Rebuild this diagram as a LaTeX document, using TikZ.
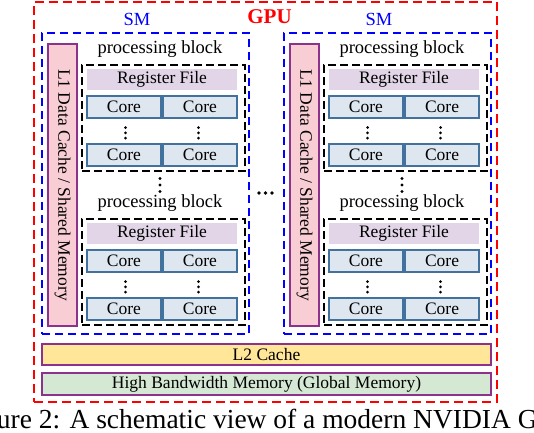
\documentclass[tikz,border=0pt]{standalone}
\usepackage{fontspec}
\setmainfont{Liberation Serif}
\definecolor{gpured}{RGB}{255,0,0}
\definecolor{smblue}{RGB}{0,0,255}
\definecolor{lonefill}{RGB}{248,206,212}
\definecolor{purpleline}{RGB}{140,50,140}
\definecolor{regfill}{RGB}{225,213,231}
\definecolor{corefill}{RGB}{222,231,240}
\definecolor{coreline}{RGB}{65,113,156}
\definecolor{ltwofill}{RGB}{255,230,153}
\definecolor{hbmfill}{RGB}{213,232,212}
\begin{document}
\begin{tikzpicture}[x=1pt,y=-1pt,
  every node/.style={inner sep=0pt,outer sep=0pt},
  gpubox/.style={draw=gpured,line width=2.9pt,dash pattern=on 9pt off 5pt},
  smbox/.style={draw=smblue,line width=2.4pt,dash pattern=on 8pt off 5pt},
  pbbox/.style={draw=black,line width=2.8pt,dash pattern=on 8pt off 4pt},
  lonebox/.style={draw=purpleline,fill=lonefill,line width=1.3pt,minimum width=29pt,minimum height=282pt},
  regbox/.style={fill=regfill,minimum width=150pt,minimum height=21pt,font=\fontsize{17.5}{20}\selectfont},
  corebox/.style={draw=coreline,fill=corefill,line width=1.3pt,minimum width=74pt,minimum height=22pt,font=\fontsize{17.5}{20}\selectfont},
  membox/.style={draw=purpleline,line width=1.3pt,minimum width=449pt,font=\fontsize{17.5}{20}\selectfont},
  pblabel/.style={anchor=base,font=\fontsize{18.5}{21}\selectfont},
  smlabel/.style={text=smblue,font=\fontsize{18.5}{21}\selectfont},
  dotmark/.style={fill=black,draw=none}
]
\useasboundingbox (0,0) rectangle (534,432);
\clip (0,0) rectangle (534,432);
% GPU
\node[gpubox,minimum width=463pt,minimum height=400pt] (gpu) at (265.5,202) {};
\node[text=gpured,font=\bfseries\fontsize{21}{24}\selectfont] (gpulabel) at (269.5,17) {GPU};
% two SMs
\foreach \dx/\nm in {0/L,242/R}{
  \begin{scope}[xshift=\dx pt]
  \node[smbox,minimum width=207pt,minimum height=301pt] (sm\nm) at (145.5,183.5) {};
  \node[smlabel] (smlabel\nm) at (137,19) {SM};
  \node[lonebox] (lone\nm) at (62.5,185) {};
  \node[rotate=-90,font=\fontsize{17.5}{20}\selectfont] (lonetext\nm) at (62.5,185) {L1 Data Cache / Shared Memory};
  \foreach \ty/\k in {0/a,154/b}{
    \begin{scope}[yshift=-\ty pt]
    \node[pblabel] (pblabel\nm\k) at (160,53) {processing block};
    \node[pbbox,minimum width=163pt,minimum height=106pt] (pb\nm\k) at (163.5,118) {};
    \node[regbox] (reg\nm\k) at (162,79.5) {Register File};
    \node[corebox] (coreA\nm\k) at (124,107) {Core};
    \node[corebox] (coreB\nm\k) at (200,107) {Core};
    \node[corebox] (coreC\nm\k) at (124,155) {Core};
    \node[corebox] (coreD\nm\k) at (200,155) {Core};
    \foreach \vx in {125.5,198.5}{
      \foreach \vy in {127.5,132.8,138.1}{
        \fill[dotmark] (\vx,\vy) circle (1.5pt);
      }
    }
    \end{scope}
  }
  \foreach \vy in {178.5,185,191.5}{
    \fill[dotmark] (160,\vy) circle (1.7pt);
  }
  \end{scope}
}
% horizontal dots between SMs
\foreach \hx in {259,265.5,272}{
  \fill[dotmark] (\hx,193) circle (1.8pt);
}
% L2 and HBM
\node[membox,fill=ltwofill,minimum height=21pt] (ltwo) at (266.5,354.5) {L2 Cache};
\node[membox,fill=hbmfill,minimum height=22pt] (hbm) at (266.5,384) {High Bandwidth Memory (Global Memory)};
% caption (cut off at the edges, as in the reference)
\node[anchor=base,font=\fontsize{27.5}{30}\selectfont] (caption) at (270,428) {Figure 2: A schematic view of a modern NVIDIA GPU.};
\end{tikzpicture}
\end{document}
